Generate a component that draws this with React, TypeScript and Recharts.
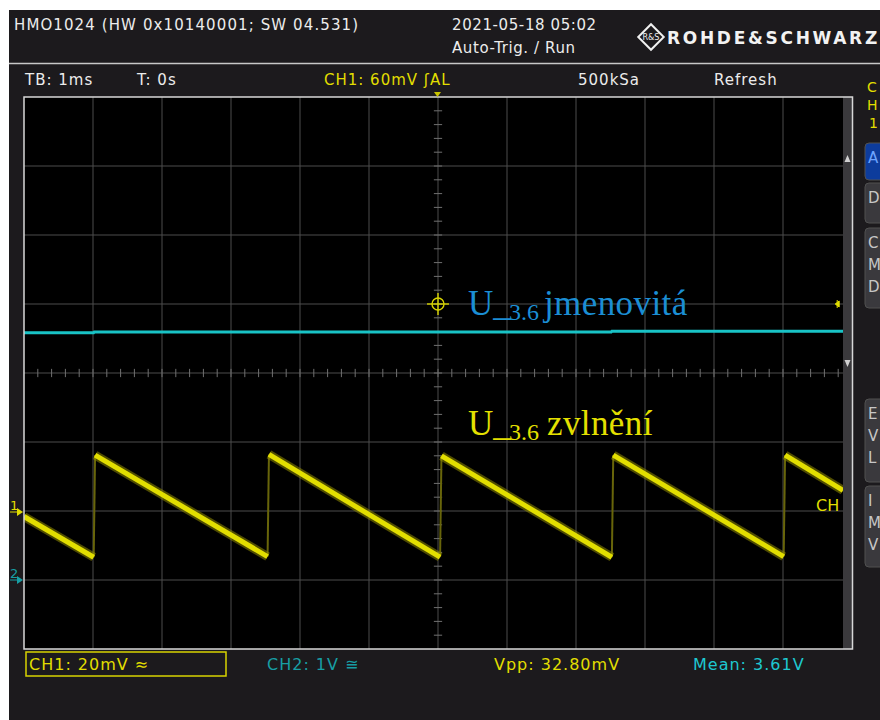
import React from 'react';
import { LineChart, Line, XAxis, YAxis, ReferenceLine, ReferenceDot } from 'recharts';

// time in ms (1 ms/div, 0 = trigger), level in screen divisions (0 = centre line)

// CH1 ripple, one falling ramp per tooth
const toothStart = [-6, -4.97, -2.45, 0.05, 2.54, 5.03];
const toothEnd = [-4.99, -2.47, 0.03, 2.52, 5.01, 5.87];
const toothTop = [-2.08, -1.19, -1.18, -1.2, -1.19, -1.19];
const toothBottom = [-2.67, -2.66, -2.67, -2.67, -2.66, -1.7];

// CH2 DC level
const ch2Time = [-6, -4.99, -4.98, 2.51, 2.52, 5.87];
const ch2Level = [0.585, 0.585, 0.595, 0.595, 0.605, 0.605];

// graticule
const gridTime = [-5, -4, -3, -2, -1, 0, 1, 2, 3, 4, 5];
const gridLevel = [-3, -2, -1, 0, 1, 2, 3];
const minorTime: number[] = [];
for (let k = -29; k <= 29; k++) minorTime.push(k / 5);
const minorLevel: number[] = [];
for (let k = -19; k <= 19; k++) minorLevel.push(k / 5);
const TICK = 0.06;

const triggerTime = 0;
const triggerLevel = 1;

const teeth = toothStart.map((s, i) => [
  { t: s, v: toothTop[i] },
  { t: toothEnd[i], v: toothBottom[i] },
]);
const edges = toothEnd.slice(0, -1).map((e, i) => [
  { t: e, v: toothBottom[i] },
  { t: toothStart[i + 1], v: toothTop[i + 1] },
]);
const ch2Data = ch2Time.map((t, i) => ({ t, v: ch2Level[i] }));

const UI = '"DejaVu Sans", sans-serif';
const YEL = '#e2de00';
const CYAN = '#19c3c6';

const Crosshair = (p: any) => (
  <g stroke="#d8d400" strokeWidth={1.4} fill="none">
    <circle cx={p.cx} cy={p.cy} r={6} />
    <line x1={p.cx - 11} y1={p.cy} x2={p.cx + 11} y2={p.cy} />
    <line x1={p.cx} y1={p.cy - 11} x2={p.cx} y2={p.cy + 11} />
  </g>
);

const LevelMark = (p: any) => (
  <g fill="#e2de00" stroke="#e2de00" strokeWidth={1}>
    <path d={`M${p.cx - 3},${p.cy} L${p.cx + 1},${p.cy - 3} L${p.cx + 1},${p.cy + 3} Z`} />
    <line x1={p.cx - 1} y1={p.cy - 4} x2={p.cx - 1} y2={p.cy + 4} />
  </g>
);

const Scope = () => (
  <LineChart width={828} height={552} margin={{ top: 0, right: 0, bottom: 0, left: 0 }}>
    <XAxis type="number" dataKey="t" domain={[-6, 6]} hide allowDataOverflow />
    <YAxis type="number" dataKey="v" domain={[-4, 4]} hide allowDataOverflow />
    {gridTime.map((t) => (
      <ReferenceLine key={`gx${t}`} x={t} stroke="#4c4c4c" strokeWidth={1} />
    ))}
    {gridLevel.map((l) => (
      <ReferenceLine key={`gy${l}`} y={l} stroke="#4c4c4c" strokeWidth={1} />
    ))}
    {minorTime.map((t) => (
      <ReferenceLine
        key={`mx${t}`}
        segment={[{ x: t, y: -TICK }, { x: t, y: TICK }]}
        stroke="#707070"
      />
    ))}
    {minorLevel.map((l) => (
      <ReferenceLine
        key={`my${l}`}
        segment={[{ x: -TICK, y: l }, { x: TICK, y: l }]}
        stroke="#707070"
      />
    ))}
    <Line data={ch2Data} dataKey="v" stroke={CYAN} strokeWidth={3} dot={false} isAnimationActive={false} />
    {edges.map((d, i) => (
      <Line key={`e${i}`} data={d} dataKey="v" stroke="#68650a" strokeWidth={2} dot={false} isAnimationActive={false} />
    ))}
    {teeth.map((d, i) => (
      <Line key={`h${i}`} data={d} dataKey="v" stroke="#8f8b00" strokeOpacity={0.55} strokeWidth={9} dot={false} isAnimationActive={false} />
    ))}
    {teeth.map((d, i) => (
      <Line key={`c${i}`} data={d} dataKey="v" stroke={YEL} strokeWidth={5} dot={false} isAnimationActive={false} />
    ))}
    <ReferenceDot x={triggerTime} y={triggerLevel} r={6} shape={Crosshair} />
    <ReferenceDot x={5.8} y={triggerLevel} r={3} shape={LevelMark} />
  </LineChart>
);

const Button = ({ y, h, letters, fill = '#3a393d', color = '#c6c6c6' }: any) => (
  <g>
    <rect x={865} y={y} width={24} height={h} rx={4} fill={fill} stroke="#505050" />
    {letters.map((c: string, i: number) => (
      <text key={i} x={868} y={y + 20 + i * 22} fill={color} fontSize={15} fontFamily={UI}>
        {c}
      </text>
    ))}
  </g>
);

export default function App() {
  return (
    <div style={{ position: 'absolute', left: 0, top: 0, width: 880, height: 720, background: '#fff', overflow: 'hidden' }}>
      <div style={{ position: 'absolute', left: 9, top: 10, width: 871, height: 710, background: '#1c1a1d' }} />
      <div style={{ position: 'absolute', left: 24, top: 97, width: 828, height: 552, background: '#000' }}>
        <Scope />
      </div>
      <svg width={880} height={720} style={{ position: 'absolute', left: 0, top: 0, pointerEvents: 'none' }}>
        {/* annotations */}
        <text fontFamily='"Liberation Serif", serif' fill="#1b8ed4">
          <tspan x={468} y={315} fontSize={35}>U_</tspan>
          <tspan x={509} y={320} fontSize={24}>3.6</tspan>
          <tspan x={544} y={315} fontSize={35} letterSpacing={0.4}>jmenovitá</tspan>
        </text>
        <text fontFamily='"Liberation Serif", serif' fill="#e4e000">
          <tspan x={468} y={435} fontSize={35}>U_</tspan>
          <tspan x={509} y={440} fontSize={24}>3.6</tspan>
          <tspan x={547} y={435} fontSize={35} letterSpacing={0.4}>zvlnění</tspan>
        </text>
        <text x={816} y={511} fill={YEL} fontSize={16} fontFamily={UI}>CH</text>

        {/* scroll bar */}
        <rect x={843} y={97} width={9} height={552} fill="#3a393c" />
        <path d="M844.5,162 L847.5,155 L850.5,162 Z" fill="#d0d0d0" />
        <path d="M844.5,360 L847.5,367 L850.5,360 Z" fill="#d0d0d0" />
        <rect x={24} y={97} width={828.5} height={552} fill="none" stroke="#d8d8d8" strokeWidth={1.5} />
        <path d="M434,92 L441,92 L437.5,97 Z" fill="#c8c400" />

        {/* channel offset markers */}
        <text x={10} y={510} fill={YEL} fontSize={13} fontFamily={UI}>1</text>
        <line x1={10} y1={512} x2={18} y2={512} stroke={YEL} />
        <path d="M17,508 L23,512 L17,516 Z" fill={YEL} />
        <text x={10} y={578} fill="#179ea4" fontSize={13} fontFamily={UI}>2</text>
        <line x1={10} y1={580} x2={18} y2={580} stroke="#179ea4" />
        <path d="M17,576 L23,580 L17,584 Z" fill="#179ea4" />

        {/* header */}
        <g fontFamily={UI} fontSize={15} fill="#ececec" letterSpacing={1.1}>
          <text x={14} y={30}>HMO1024 (HW 0x10140001; SW 04.531)</text>
          <text x={452} y={30} letterSpacing={0.6}>2021-05-18 05:02</text>
          <text x={452} y={53} letterSpacing={0.6}>Auto-Trig. / Run</text>
        </g>
        <g transform="translate(651,37)">
          <rect x={-9} y={-9} width={18} height={18} transform="rotate(45)" fill="none" stroke="#f0f0f0" strokeWidth={2} />
          <text x={0} y={3} fontSize={8} textAnchor="middle" fill="#f0f0f0" fontFamily={UI}>R&amp;S</text>
        </g>
        <text x={667} y={44} fontSize={17} fontWeight="bold" letterSpacing={2.7} fill="#f2f2f2" fontFamily={UI}>
          ROHDE&amp;SCHWARZ
        </text>
        <line x1={9} y1={63.5} x2={880} y2={63.5} stroke="#c8c8c8" strokeWidth={1.5} />

        {/* status line */}
        <g fontFamily={UI} fontSize={15} fill="#ececec" letterSpacing={1}>
          <text x={25} y={85}>TB: 1ms</text>
          <text x={137} y={85}>T: 0s</text>
          <text x={324} y={85} fill={YEL}>CH1: 60mV ʃAL</text>
          <text x={578} y={85}>500kSa</text>
          <text x={714} y={85}>Refresh</text>
        </g>

        {/* bottom line */}
        <rect x={26} y={652} width={200} height={24} fill="none" stroke="#d8d400" strokeWidth={1.5} />
        <g fontFamily={UI} fontSize={16} letterSpacing={1}>
          <text x={29} y={670} fill={YEL}>CH1: 20mV ≈</text>
          <text x={267} y={670} fill="#179ea4">CH2: 1V ≅</text>
          <text x={494} y={670} fill={YEL}>Vpp: 32.80mV</text>
          <text x={693} y={670} fill="#1ec8d0">Mean: 3.61V</text>
        </g>

        {/* side menu, cut off by the frame */}
        <g fontFamily={UI} fontSize={14} fill={YEL}>
          <text x={867} y={92}>C</text>
          <text x={867} y={110}>H</text>
          <text x={869} y={128}>1</text>
        </g>
        <Button y={143} h={37} letters={['A']} fill="#0d3c9c" color="#6ea4ff" />
        <Button y={183} h={40} letters={['D']} />
        <Button y={228} h={80} letters={['C', 'M', 'D']} />
        <Button y={399} h={83} letters={['E', 'V', 'L']} />
        <Button y={486} h={81} letters={['I', 'M', 'V']} />
      </svg>
    </div>
  );
}
